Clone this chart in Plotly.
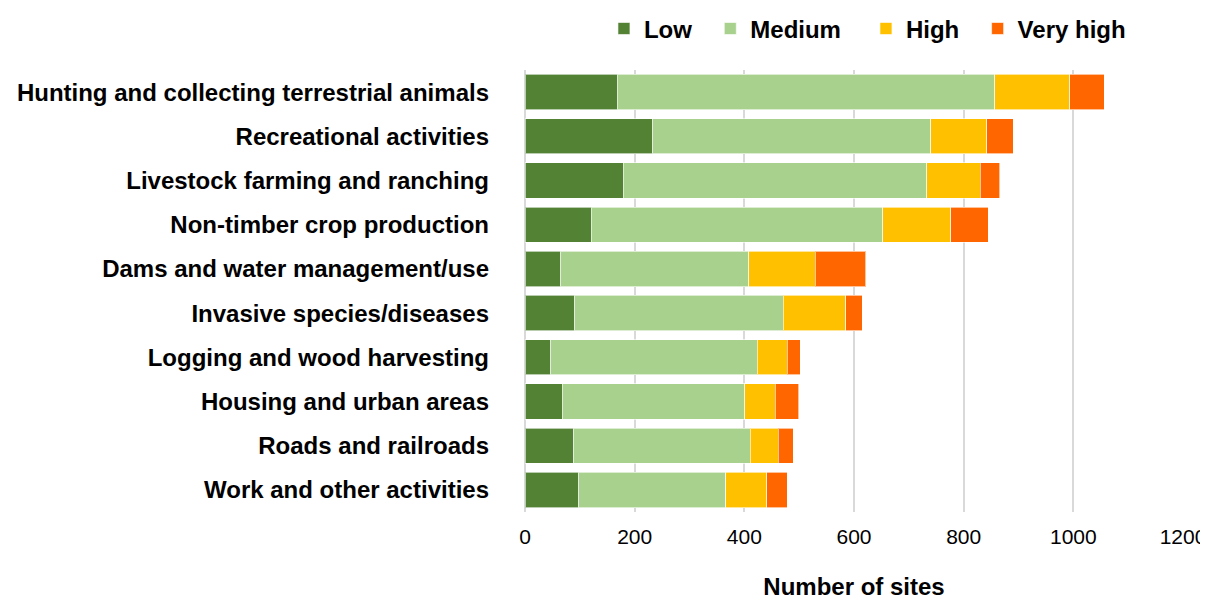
import plotly.graph_objects as go

categories = [
    "Hunting and collecting terrestrial animals",
    "Recreational activities",
    "Livestock farming and ranching",
    "Non-timber crop production",
    "Dams and water management/use",
    "Invasive species/diseases",
    "Logging and wood harvesting",
    "Housing and urban areas",
    "Roads and railroads",
    "Work and other activities",
]
low = [168, 233, 179, 121, 65, 91, 47, 68, 89, 98]
medium = [689, 507, 554, 531, 343, 380, 377, 333, 322, 268]
high = [136, 102, 97, 124, 121, 114, 54, 55, 51, 75]
very_high = [63, 48, 36, 69, 92, 30, 24, 43, 27, 37]
x_ticks = [0, 200, 400, 600, 800, 1000, 1200]

NB = "\u00a0"
series = [
    ("Low" + NB * 2, low, "#548235"),
    ("Medium" + NB * 3, medium, "#A9D18E"),
    ("High" + NB * 2, high, "#FFC000"),
    ("Very high", very_high, "#FF6600"),
]

FONT = "Liberation Sans, Arial, sans-serif"

fig = go.Figure()
for name, vals, col in series:
    fig.add_trace(go.Bar(
        y=categories, x=vals, name=name, orientation="h",
        marker=dict(color=col, line=dict(color="rgba(255,255,255,0.6)", width=1)),
    ))

fig.update_layout(
    width=1200, height=593,
    barmode="stack", bargap=0.2,
    plot_bgcolor="white", paper_bgcolor="white",
    margin=dict(l=517, r=25, t=62, b=89, autoexpand=False),
    font=dict(family=FONT, size=22, color="black"),
    legend=dict(orientation="h", x=0.12, y=1.093, xanchor="left", yanchor="middle",
                font=dict(family=FONT, size=24, color="black", weight="bold"),
                itemwidth=30, traceorder="normal", tracegroupgap=0),
    xaxis=dict(range=[0, 1200], tickvals=x_ticks, showgrid=True, gridcolor="#D9D9D9",
               gridwidth=2, zeroline=True, zerolinecolor="#D9D9D9", zerolinewidth=2,
               tickfont=dict(family=FONT, size=21), ticks="", ticklabelstandoff=10,
               automargin=False,
               title=dict(text="Number of sites", font=dict(family=FONT, size=24, weight="bold"),
                          standoff=31)),
    yaxis=dict(categoryorder="array", categoryarray=categories[::-1],
               range=[-0.5, len(categories) - 0.5], automargin=False,
               tickfont=dict(family=FONT, size=24, weight="bold"), ticks="",
               ticklabelstandoff=35),
)

fig.write_html("out.html")
